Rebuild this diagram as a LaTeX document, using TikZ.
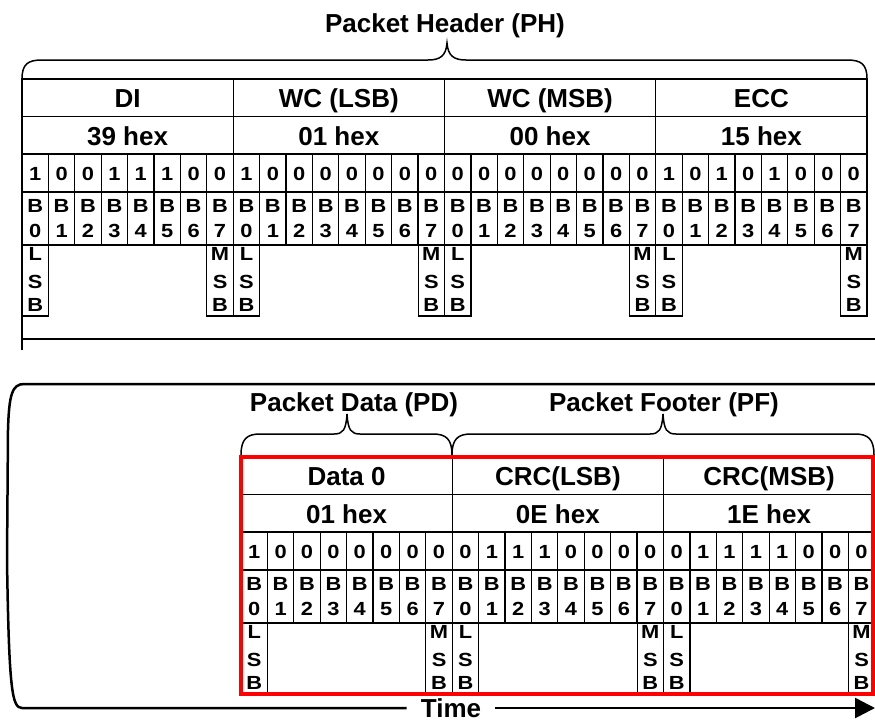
\documentclass[tikz,border=0pt]{standalone}
\usepackage{fontspec}
\setmainfont{Liberation Sans}
\newfontfamily\cellfont[FakeStretch=1.15]{Liberation Sans}
\usetikzlibrary{arrows.meta}

\begin{document}
\begin{tikzpicture}[x=1pt,y=-1pt,
    head/.style={font=\fontsize{26}{30}\selectfont\bfseries, inner sep=0pt, anchor=base},
    small/.style={font=\cellfont\fontsize{19}{20}\selectfont\bfseries, inner sep=0pt, anchor=base},
    cell/.style={line width=1.2pt},
    brace/.style={line width=1.5pt},
    heavy/.style={line width=2.5pt}]
  \useasboundingbox (0,0) rectangle (875,724);

  %Packet Header
  \node[head] (ph) at (445,32) {Packet Header (PH)};
  \draw[brace] (22,79) .. controls (22,64) and (28,60) .. (42,60) -- (428,60)
    .. controls (440,60) and (446,56) .. (447,43) .. controls (448,56) and (454,60) .. (466,60)
    -- (847,60) .. controls (861,60) and (867,64) .. (867,79);

  %Bytes
  \foreach \xa/\ya/\nm/\hx/\bits [count=\i] in {
      22/79/DI/39 hex/{1,0,0,1,1,1,0,0},
      233.25/79/WC (LSB)/01 hex/{1,0,0,0,0,0,0,0},
      444.5/79/WC (MSB)/00 hex/{0,0,0,0,0,0,0,0},
      655.75/79/ECC/15 hex/{1,0,1,0,1,0,0,0},
      241/457/Data 0/01 hex/{1,0,0,0,0,0,0,0},
      452.25/457/CRC(LSB)/0E hex/{0,1,1,1,0,0,0,0},
      663.5/457/CRC(MSB)/1E hex/{0,1,1,1,1,0,0,0}}{
    \draw[cell] (\xa,\ya) rectangle +(211.25,166);
    \draw[cell] (\xa,\ya+37.5) -- +(211.25,0);
    \draw[cell] (\xa,\ya+75) -- +(211.25,0);
    \draw[cell] (\xa,\ya+113) -- +(211.25,0);
    \node[head] (nm\i) at (\xa+105.6,\ya+28) {\nm};
    \node[head] (hx\i) at (\xa+105.6,\ya+66) {\hx};
    \foreach \b [count=\k from 0] in \bits {
      \draw[cell] (\xa+26.4*\k,\ya+75) -- +(0,91);
      \node[small] (v\i-\k) at (\xa+26.4*\k+13.2,\ya+101.5) {\b};
      \node[small] (b\i-\k) at (\xa+26.4*\k+13.2,\ya+133) {B};
      \node[small] (n\i-\k) at (\xa+26.4*\k+13.2,\ya+158) {\k};
    }
    %LSB / MSB
    \draw[cell] (\xa,\ya+166) rectangle +(26.4,71);
    \draw[cell] (\xa+184.85,\ya+166) rectangle +(26.4,71);
    \foreach \c/\dy in {L/181,S/209,B/232}
      \node[small] (lsb\i\c) at (\xa+13.2,\ya+\dy) {\c};
    \foreach \c/\dy in {M/181,S/209,B/232}
      \node[small] (msb\i\c) at (\xa+198.05,\ya+\dy) {\c};
  }

  \draw[cell] (22,245) -- (22,350);
  \draw[heavy] (22,339) -- (875,339);

  %Packet Data / Packet Footer
  \node[head] (pd) at (354,411) {Packet Data (PD)};
  \node[head] (pf) at (664,411) {Packet Footer (PF)};
  \draw[brace] (241,455) .. controls (241,439) and (247,434) .. (260,434) -- (334,434)
    .. controls (343,434) and (346,430) .. (347,414) .. controls (348,430) and (351,434) .. (360,434)
    -- (433,434) .. controls (446,434) and (452,439) .. (452,455);
  \draw[brace] (452,455) .. controls (452,439) and (458,434) .. (471,434) -- (650,434)
    .. controls (659,434) and (662,430) .. (663,414) .. controls (664,430) and (667,434) .. (676,434)
    -- (855,434) .. controls (868,434) and (874,439) .. (874,455);

  \draw[red, line width=4.5pt] (241,457) rectangle (873,694);

  %Time
  \node[head, anchor=center, inner xsep=14pt] (time) at (451,708) {Time};
  \coordinate (tend) at (875,708);
  \draw[heavy] (time.west) -- (22,708) .. controls (12,708) and (9,690) .. (7,560) -- (8,430)
    .. controls (9,395) and (12,384) .. (24,384) -- (875,384);
  \draw[heavy, -{Triangle[length=20pt,width=20pt]}] (time.east) -- (tend);
\end{tikzpicture}
\end{document}
